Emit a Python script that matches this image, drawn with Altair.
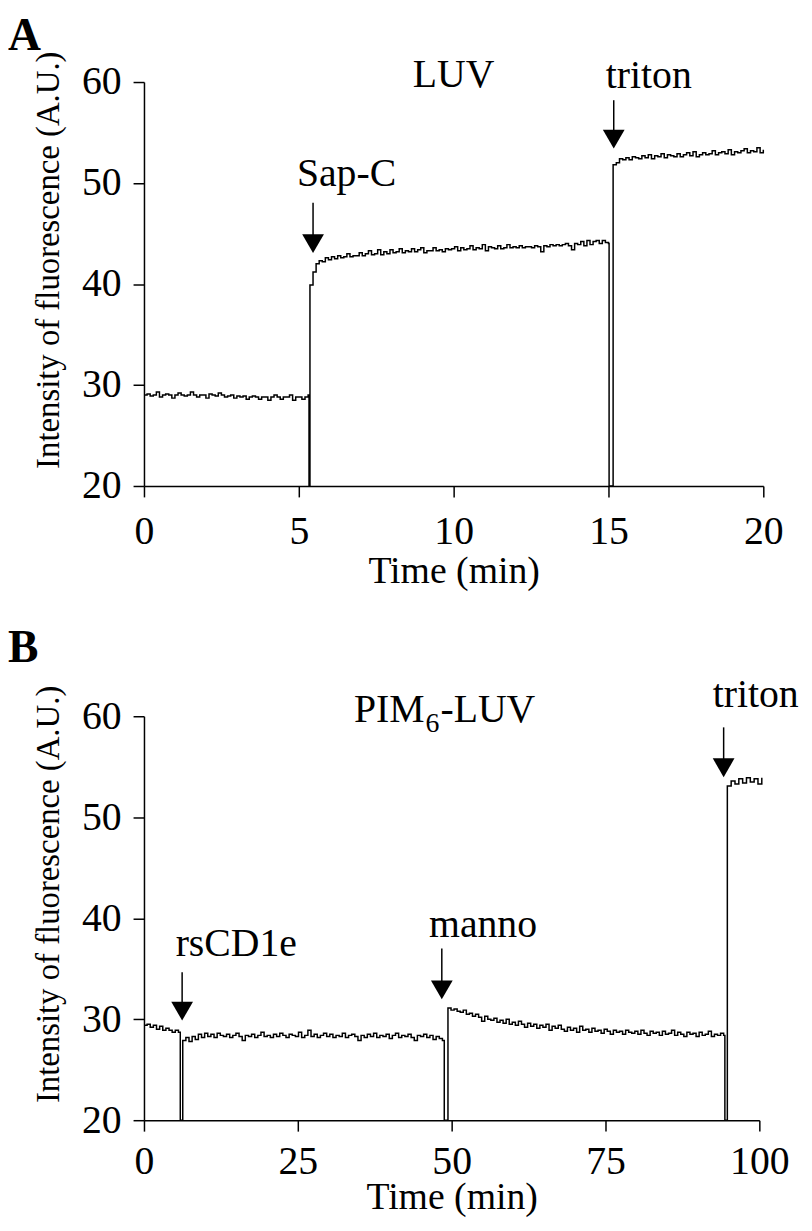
import altair as alt
import pandas as pd

FONT = "Liberation Serif"

# ---------------- Panel A (LUV) ----------------
a_seg1 = [
    29.0, 29.1, 28.9, 29.0, 29.3, 28.8, 29.0, 29.1, 29.0, 28.7,
    29.0, 29.2, 29.0, 28.9, 29.0, 29.3, 29.0, 28.8, 29.0, 29.0,
    28.7, 29.1, 29.0, 28.9, 29.2, 29.0, 28.8, 28.9, 29.0, 28.7,
    28.9, 28.8, 28.9, 28.6, 28.8, 28.9, 28.8, 28.6, 28.8, 28.8,
    28.5, 28.8, 29.0, 28.8, 28.6, 28.8, 28.8, 29.0, 28.5, 28.8,
    28.8, 28.6, 28.8, 29.0,
]
a_seg2 = [
    39.9, 41.2, 42.0, 42.3, 42.2, 42.6, 42.4, 42.7, 42.5, 42.8,
    42.6, 42.7, 43.0, 42.7, 42.8, 42.8, 43.1, 42.8, 43.0, 43.3,
    42.9, 43.0, 43.4, 42.9, 43.2, 43.0, 43.4, 43.1, 43.2, 43.5,
    43.1, 43.3, 43.2, 43.5, 43.2, 43.4, 43.6, 43.1, 43.3, 43.3,
    43.6, 43.3, 43.4, 43.2, 43.5, 43.4, 43.5, 43.7, 43.3, 43.6,
    43.4, 43.5, 43.8, 43.4, 43.6, 43.5, 43.9, 43.3, 43.7, 43.6,
    43.5, 43.8, 43.5, 43.6, 43.9, 43.6, 43.7, 43.6, 43.8, 43.6,
    43.7, 43.7, 43.6, 43.8, 43.7, 43.2, 43.8, 43.7, 43.9, 43.8,
    43.9, 43.8, 43.9, 44.0, 43.8, 43.4, 44.0, 43.9, 44.2, 43.8,
    44.3, 43.9, 44.2, 44.3, 44.0, 44.3, 44.1, 44.0,
]
a_seg3 = [
    51.8, 52.0, 52.4, 52.3, 52.5, 52.3, 52.6, 52.5, 52.4, 52.7,
    52.5, 52.8, 52.4, 52.7, 52.6, 52.9, 52.5, 52.8, 52.7, 52.6,
    52.9, 52.6, 52.8, 53.0, 52.7, 53.1, 52.6, 52.8, 53.0, 52.8,
    52.9, 53.2, 52.8, 53.0, 53.1, 52.9, 53.3, 52.8, 53.1, 53.0,
    53.2, 53.4, 53.0, 53.2, 53.1, 53.5, 53.0, 53.3,
]
a_seg_starts = [0.0, 5.36, 15.15]
a_seg_ends = [5.30, 15.00, 20.0]
a_spike_times = [5.33, 15.02]
a_spike_values = [20.0, 20.0]

a_arrow_x = [5.46, 15.17]
a_arrow_top = [48.05, 58.2]
a_arrow_head = [44.0, 54.35]

a_label_text = ["LUV", "Sap-C", "triton"]
a_label_x = [10.0, 6.54, 16.3]
a_label_y = [59.5, 49.7, 59.4]

# ---------------- Panel B (PIM6-LUV) ----------------
b_seg1 = [29.4, 29.5, 29.2, 29.4, 29.0, 29.3, 28.9, 29.1, 28.9, 28.7, 28.9, 28.7]
b_seg2 = [
    27.9, 28.2, 27.8, 28.3, 28.0, 28.5, 28.2, 28.6, 28.3, 28.5,
    28.2, 28.6, 28.4, 28.3, 28.5, 28.2, 28.4, 28.6, 28.3, 27.9,
    28.4, 28.3, 28.5, 28.2, 28.4, 28.7, 28.3, 28.4, 28.2, 28.5,
    28.3, 28.6, 28.4, 28.2, 28.5, 28.4, 28.3, 28.7, 28.2, 28.4,
    28.9, 28.3, 28.5, 28.2, 28.4, 28.6, 28.3, 28.5, 28.2, 28.4,
    28.3, 28.6, 28.2, 28.4, 28.5, 28.3, 27.9, 28.4, 28.2, 28.5,
    28.3, 28.6, 28.2, 28.4, 28.3, 28.5, 28.1, 28.4, 28.6, 28.2,
    28.4, 28.3, 28.5, 28.2, 27.9, 28.4, 28.3, 28.5, 28.2, 28.4,
    28.0, 28.3, 28.1, 27.9,
]
b_seg3 = [
    31.1, 30.9, 31.0, 30.8, 30.7, 30.9, 30.5, 30.6, 30.3, 30.5,
    30.2, 29.8, 30.3, 30.0, 29.9, 30.1, 29.7, 29.9, 29.6, 30.0,
    29.5, 29.7, 29.4, 29.8, 29.5, 29.2, 29.6, 29.3, 29.5, 29.1,
    29.4, 29.2, 29.5, 28.9, 29.3, 29.1, 29.4, 29.0, 28.8, 29.2,
    28.9, 29.1, 28.7, 29.3, 28.9, 29.0, 28.7, 29.1, 28.8, 28.9,
    28.6, 29.0, 28.8, 28.5, 28.9, 28.7, 28.8, 28.5, 28.9, 28.7,
    28.6, 28.8, 28.5, 28.9, 28.6, 28.4, 28.8, 28.6, 28.7, 28.4,
    28.8, 28.5, 28.6, 28.9, 28.4, 28.7, 28.5, 28.3, 28.7, 28.5,
    28.6, 28.3, 28.7, 28.4, 28.5, 28.8, 28.3, 28.5, 28.4, 28.6,
    28.4,
]
b_seg4 = [53.1, 53.6, 53.3, 53.8, 53.4, 53.9, 53.5, 53.8, 53.3, 53.9]
b_seg_starts = [0.0, 6.3, 49.4, 94.8]
b_seg_ends = [5.6, 48.5, 94.2, 100.4]
b_spike_times = [5.9, 48.8, 94.4]
b_spike_values = [20.0, 20.0, 20.0]

b_arrow_x = [6.2, 48.4, 94.2]
b_arrow_top = [34.65, 37.0, 58.9]
b_arrow_head = [30.8, 32.9, 54.9]

b_label_text = ["rsCD1e", "manno", "triton"]
b_label_x = [15.0, 55.1, 99.4]
b_label_y = [36.3, 38.1, 60.9]

b_title_x = 45.6
b_title_y = 59.4

y_ticks = [20, 30, 40, 50, 60]


def build_trace(segs, starts, ends, spike_t, spike_v):
    rows = []
    for vals, s, e in zip(segs, starts, ends):
        n = len(vals)
        for i, v in enumerate(vals):
            t = s + (e - s) * i / (n - 1)
            rows.append({"t": t, "v": v})
    for t, v in zip(spike_t, spike_v):
        rows.append({"t": t, "v": v})
    return pd.DataFrame(rows).sort_values("t").reset_index(drop=True)


a_df = build_trace([a_seg1, a_seg2, a_seg3], a_seg_starts, a_seg_ends, a_spike_times, a_spike_values)
b_df = build_trace([b_seg1, b_seg2, b_seg3, b_seg4], b_seg_starts, b_seg_ends, b_spike_times, b_spike_values)

a_arrows = pd.DataFrame({"t": a_arrow_x, "v": a_arrow_top, "v2": a_arrow_head})
b_arrows = pd.DataFrame({"t": b_arrow_x, "v": b_arrow_top, "v2": b_arrow_head})
a_labels = pd.DataFrame({"t": a_label_x, "v": a_label_y, "text": a_label_text})
b_labels = pd.DataFrame({"t": b_label_x, "v": b_label_y, "text": b_label_text})


def panel(df, arrows, labels, xdom, xticks, width, letter, title_offset,
          x_label_pad, x_title_pad, y_title_y, extra=None):
    xs = alt.Scale(domain=xdom, nice=False, zero=False)
    ys = alt.Scale(domain=[20, 60], nice=False, zero=False)
    line = alt.Chart(df).mark_line(
        interpolate="step-after", color="black", strokeWidth=1.5, clip=False
    ).encode(
        x=alt.X("t:Q", scale=xs, axis=alt.Axis(
            values=xticks, title="Time (min)",
            labelPadding=x_label_pad, titlePadding=x_title_pad)),
        y=alt.Y("v:Q", scale=ys, axis=alt.Axis(
            values=y_ticks, title="Intensity of fluorescence (A.U.)", titleY=y_title_y)),
    )
    rules = alt.Chart(arrows).mark_rule(color="black", strokeWidth=1.5).encode(
        x="t:Q", y="v:Q", y2="v2:Q"
    )
    heads = alt.Chart(arrows).mark_point(
        shape="triangle-down", filled=True, size=480, color="black", opacity=1
    ).encode(x="t:Q", y="v2:Q")
    texts = alt.Chart(labels).mark_text(
        font=FONT, fontSize=40, baseline="alphabetic", align="center", color="black"
    ).encode(x="t:Q", y="v:Q", text="text:N")
    layers = [line, rules, heads, texts]
    if extra is not None:
        layers += extra
    return alt.layer(*layers).properties(
        width=width,
        height=407,
        title=alt.TitleParams(
            letter, anchor="start", frame="group", font=FONT, fontSize=46,
            fontWeight="bold", color="black", dx=-137, offset=title_offset,
            baseline="alphabetic",
        ),
    )


pim = pd.DataFrame({"t": [b_title_x], "v": [b_title_y]})
pim_main = alt.Chart(pim).mark_text(
    font=FONT, fontSize=40, baseline="alphabetic", align="right", color="black", text="PIM"
).encode(x="t:Q", y="v:Q")
pim_sub = alt.Chart(pim).mark_text(
    font=FONT, fontSize=28, baseline="alphabetic", align="left", color="black", text="6", dx=1, dy=10
).encode(x="t:Q", y="v:Q")
pim_rest = alt.Chart(pim).mark_text(
    font=FONT, fontSize=40, baseline="alphabetic", align="left", color="black", text="-LUV", dx=16
).encode(x="t:Q", y="v:Q")

top = panel(a_df, a_arrows, a_labels, [0, 20], [0, 5, 10, 15, 20], 624, "A", -45, 15, 1, 179)
bottom = panel(b_df, b_arrows, b_labels, [0, 100], [0, 25, 50, 75, 100], 620, "B", -33, 11, -3, 179,
               extra=[pim_main, pim_sub, pim_rest])

chart = alt.vconcat(top, bottom, spacing=35).properties(
    padding={"left": 0, "top": 0, "right": 5, "bottom": 5}
).configure_view(stroke=None).configure_axis(
    domainColor="black", domainWidth=1.5, tickColor="black", tickWidth=1.5, tickSize=11,
    labelFont=FONT, labelFontSize=40, labelColor="black", titleFont=FONT,
    titleFontWeight="normal", titleColor="black", grid=False, labelFlush=False,
    labelOverlap=False,
).configure_axisX(
    titleFontSize=38,
).configure_axisY(
    titleFontSize=33, labelPadding=12, titlePadding=16,
)

chart.save("out.html", embed_options={"renderer": "svg", "actions": False})
